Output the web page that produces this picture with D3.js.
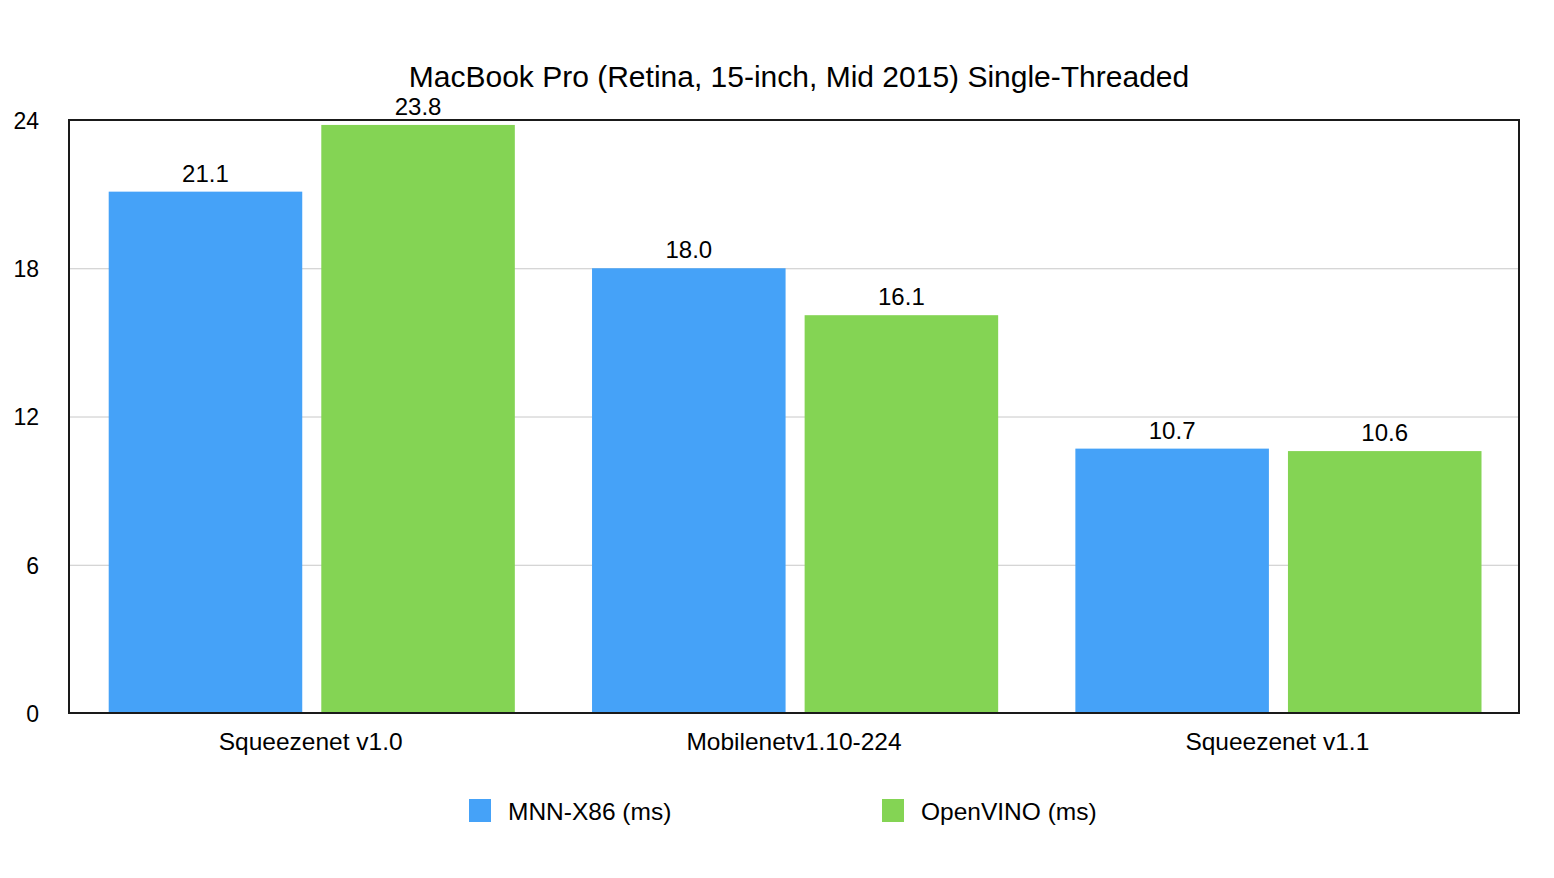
<!DOCTYPE html>
<html>
<head>
<meta charset="utf-8">
<script src="https://cdn.jsdelivr.net/npm/d3@7"></script>
<style>
  html, body { margin: 0; padding: 0; background: #fff; }
  text { font-family: "Liberation Sans", Arial, Helvetica, sans-serif; fill: #000; }
</style>
</head>
<body>
<svg id="chart" width="1554" height="878"></svg>
<script>
const categories = ["Squeezenet v1.0", "Mobilenetv1.10-224", "Squeezenet v1.1"];
const seriesNames = ["MNN-X86 (ms)", "OpenVINO (ms)"];
const mnnValues = [21.1, 18.0, 10.7];
const openvinoValues = [23.8, 16.1, 10.6];
const yTicks = [0, 6, 12, 18, 24];
const colors = ["#45A2F8", "#84D454"];
const title = "MacBook Pro (Retina, 15-inch, Mid 2015) Single-Threaded";

const svg = d3.select("#chart");
const mLeft = 69, mRight = 1519, mTop = 120, mBottom = 713;
const FONT = "'Liberation Sans', Arial, Helvetica, sans-serif";

const x0 = d3.scaleBand().domain(categories).range([mLeft, mRight]).padding(0);
const x1 = d3.scaleBand().domain(seriesNames)
  .range([39.7, x0.bandwidth() - 37.5]).paddingInner(0.0896).paddingOuter(0);
const y = d3.scaleLinear().domain([0, 24]).range([mBottom, mTop]);

const data = categories.map((c, i) => ({
  category: c,
  values: [
    { name: seriesNames[0], value: mnnValues[i], color: colors[0] },
    { name: seriesNames[1], value: openvinoValues[i], color: colors[1] }
  ]
}));

// gridlines
const grid = svg.append("g")
  .attr("transform", `translate(${mLeft},0)`)
  .call(d3.axisLeft(y).tickValues(yTicks.filter(t => t > 0 && t < 24)).tickSize(-(mRight - mLeft)).tickFormat(""));
grid.select(".domain").remove();
grid.selectAll("line").attr("stroke", "#c8c8c8").attr("stroke-width", 1);

// y tick labels
const yAxis = svg.append("g")
  .attr("transform", `translate(${mLeft},0)`)
  .call(d3.axisLeft(y).tickValues(yTicks).tickSize(0).tickPadding(0).tickFormat(d3.format("d")));
yAxis.select(".domain").remove();
yAxis.selectAll("text")
  .attr("x", -30)
  .attr("text-anchor", "end")
  .attr("dy", "0.36em")
  .style("font-size", "23px")
  .style("font-family", FONT);

// bars
const groups = svg.append("g").selectAll("g").data(data).join("g")
  .attr("transform", d => `translate(${x0(d.category)},0)`);
groups.selectAll("rect").data(d => d.values).join("rect")
  .attr("x", d => x1(d.name))
  .attr("y", d => y(d.value))
  .attr("width", x1.bandwidth())
  .attr("height", d => y(0) - y(d.value))
  .attr("fill", d => d.color);
groups.selectAll("text.val").data(d => d.values).join("text")
  .attr("class", "val")
  .attr("x", d => x1(d.name) + x1.bandwidth() / 2)
  .attr("y", d => y(d.value) - 10)
  .attr("text-anchor", "middle")
  .style("font-size", "24px")
  .text(d => d3.format(".1f")(d.value));

// frame
svg.append("rect")
  .attr("x", mLeft).attr("y", mTop)
  .attr("width", mRight - mLeft).attr("height", mBottom - mTop)
  .attr("fill", "none").attr("stroke", "#1a1a1a").attr("stroke-width", 2);

// x axis labels
const xAxis = svg.append("g")
  .attr("transform", `translate(0,${mBottom})`)
  .call(d3.axisBottom(x0).tickSize(0).tickPadding(0));
xAxis.select(".domain").remove();
xAxis.selectAll("text")
  .attr("y", 37)
  .attr("dy", "0")
  .style("font-size", "24.5px")
  .style("font-family", FONT);

// title
svg.append("text")
  .attr("x", 799).attr("y", 87)
  .attr("text-anchor", "middle")
  .style("font-size", "30px")
  .text(title);

// legend
const legendX = [469, 882];
const legend = svg.append("g").selectAll("g").data(seriesNames).join("g")
  .attr("transform", (d, i) => `translate(${legendX[i]},799)`);
legend.append("rect").attr("width", 22).attr("height", 23).attr("fill", (d, i) => colors[i]);
legend.append("text").attr("x", 39).attr("y", 21)
  .style("font-size", "24.5px").text(d => d);
</script>
</body>
</html>
